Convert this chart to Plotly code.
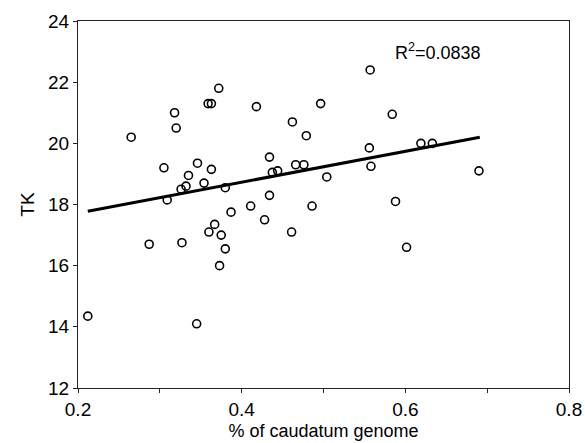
import plotly.graph_objects as go

# Values
caudatum_pct = [0.212, 0.265, 0.287, 0.305, 0.309, 0.318, 0.320, 0.326, 0.327, 0.332,
                0.335, 0.345, 0.346, 0.354, 0.359, 0.360, 0.363, 0.363, 0.367, 0.372,
                0.373, 0.375, 0.380, 0.380, 0.387, 0.411, 0.418, 0.428, 0.434, 0.434,
                0.4375, 0.444, 0.461, 0.462, 0.466, 0.476, 0.479, 0.486, 0.4965, 0.504,
                0.557, 0.556, 0.558, 0.584, 0.588, 0.6015, 0.619, 0.633, 0.690]
tk_values = [14.35, 20.2, 16.7, 19.2, 18.15, 21.0, 20.5, 18.5, 16.75, 18.6,
             18.95, 14.1, 19.35, 18.7, 21.3, 17.1, 21.3, 19.15, 17.35, 21.8,
             16.0, 17.0, 18.55, 16.55, 17.75, 17.95, 21.2, 17.5, 19.55, 18.3,
             19.05, 19.1, 17.1, 20.7, 19.3, 19.3, 20.25, 17.95, 21.3, 18.9,
             22.4, 19.85, 19.25, 20.95, 18.1, 16.6, 20.0, 20.0, 19.1]

# Linear trend line ends
fit_x = [0.212, 0.691]
fit_y = [17.78, 20.2]
r_squared = "0.0838"

font = "Liberation Sans, Arial, sans-serif"

fig = go.Figure()

fig.add_trace(go.Scatter(
    x=fit_x, y=fit_y, mode="lines",
    line=dict(color="black", width=3),
    showlegend=False,
))

fig.add_trace(go.Scatter(
    x=caudatum_pct, y=tk_values, mode="markers",
    marker=dict(symbol="circle-open", size=8, color="black", line=dict(width=1.6)),
    showlegend=False,
))

fig.add_annotation(
    x=0.585, y=23.0, xref="x", yref="y",
    text=f"R<sup>2</sup>={r_squared}",
    showarrow=False, xanchor="left", yanchor="middle",
    font=dict(family=font, size=18, color="black"),
)

axis_common = dict(
    showline=True, linecolor="#222", linewidth=1.2, mirror=True,
    showgrid=False, zeroline=False, automargin=False,
    ticks="outside", ticklen=4, tickcolor="#222",
    tickfont=dict(family=font, size=19, color="black"),
)

fig.update_xaxes(
    range=[0.2, 0.8], tickvals=[0.2, 0.4, 0.6, 0.8], ticktext=["0.2", "0.4", "0.6", "0.8"],
    minor=dict(tickvals=[0.3, 0.5, 0.7], ticks="outside", ticklen=4, tickcolor="#222"),
    title=dict(text="% of caudatum genome", font=dict(family=font, size=18, color="black"), standoff=5),
    **axis_common,
)
fig.update_yaxes(
    range=[12, 24], tickvals=[12, 14, 16, 18, 20, 22, 24],
    title=dict(text="TK", font=dict(family=font, size=19, color="black"), standoff=8),
    **axis_common,
)

fig.update_layout(
    width=585, height=443,
    margin=dict(l=78, r=16, t=21, b=55),
    plot_bgcolor="white", paper_bgcolor="white",
)

# drop the page's default body margin so the figure fills the window
fig.write_html(
    "out.html",
    config={"displayModeBar": False},
    post_script="document.body.style.margin='0px';document.body.style.overflow='hidden';",
)
